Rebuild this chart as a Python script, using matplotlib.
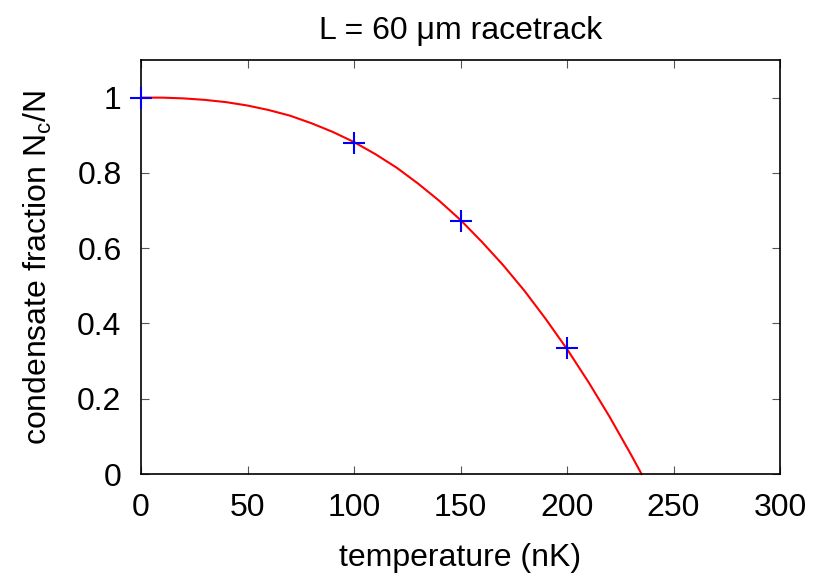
import matplotlib
matplotlib.use("Agg")
import matplotlib.pyplot as plt

plt.rcParams['font.family'] = ['Liberation Sans', 'DejaVu Sans']
plt.rcParams['mathtext.fontset'] = 'custom'
plt.rcParams['mathtext.rm'] = 'Liberation Sans'
plt.rcParams['mathtext.it'] = 'Liberation Sans'

# measured points (temperature in nK, condensate fraction)
temp_pts = [0, 100, 150, 200]
frac_pts = [1.0, 0.880, 0.672, 0.335]

# fitted curve
temp_fit = [0, 10, 20, 30, 40, 50, 60, 70, 80, 90, 100, 110, 120, 130, 140,
            150, 160, 170, 180, 190, 200, 210, 220, 230, 235]
frac_fit = [1.000, 1.000, 0.998, 0.994, 0.988, 0.979, 0.967, 0.952, 0.932,
            0.909, 0.882, 0.850, 0.814, 0.772, 0.726, 0.675, 0.617, 0.555,
            0.487, 0.412, 0.332, 0.245, 0.152, 0.052, 0.000]

xticks = [0, 50, 100, 150, 200, 250, 300]
yticks = [0, 0.2, 0.4, 0.6, 0.8, 1]
ytick_labels = ['0', '0.2', '0.4', '0.6', '0.8', '1']

FS = 23

fig = plt.figure(figsize=(8.18, 5.79), dpi=100)
ax = fig.add_axes([141 / 818, 1 - 474 / 579, 639 / 818, 414 / 579])

ax.plot(temp_fit, frac_fit, color='#ff0000', linewidth=1.5, clip_on=False, zorder=2)
ax.plot(temp_pts, frac_pts, linestyle='none', marker='+', markersize=16.5,
        markeredgewidth=1.5, color='#0000ff', clip_on=False, zorder=3)

ax.set_xlim(0, 300)
ax.set_ylim(0, 1.1)
ax.set_xticks(xticks)
ax.set_yticks(yticks)
ax.set_yticklabels(ytick_labels)
ax.tick_params(direction='in', length=6, width=0.8, color='#555555',
               top=True, right=True, labelsize=FS, labelcolor='black')
ax.tick_params(axis='x', pad=14)
ax.tick_params(axis='y', pad=14)
for s in ax.spines.values():
    s.set_linewidth(1.2)

ax.set_xlabel('temperature (nK)', fontsize=FS, labelpad=14)
ax.set_ylabel('condensate fraction N$_\\mathrm{c}$/N', fontsize=FS, labelpad=17)
ax.set_title('L = 60 \u03bcm racetrack', fontsize=FS, pad=15)

plt.savefig('out.png', dpi=100)
